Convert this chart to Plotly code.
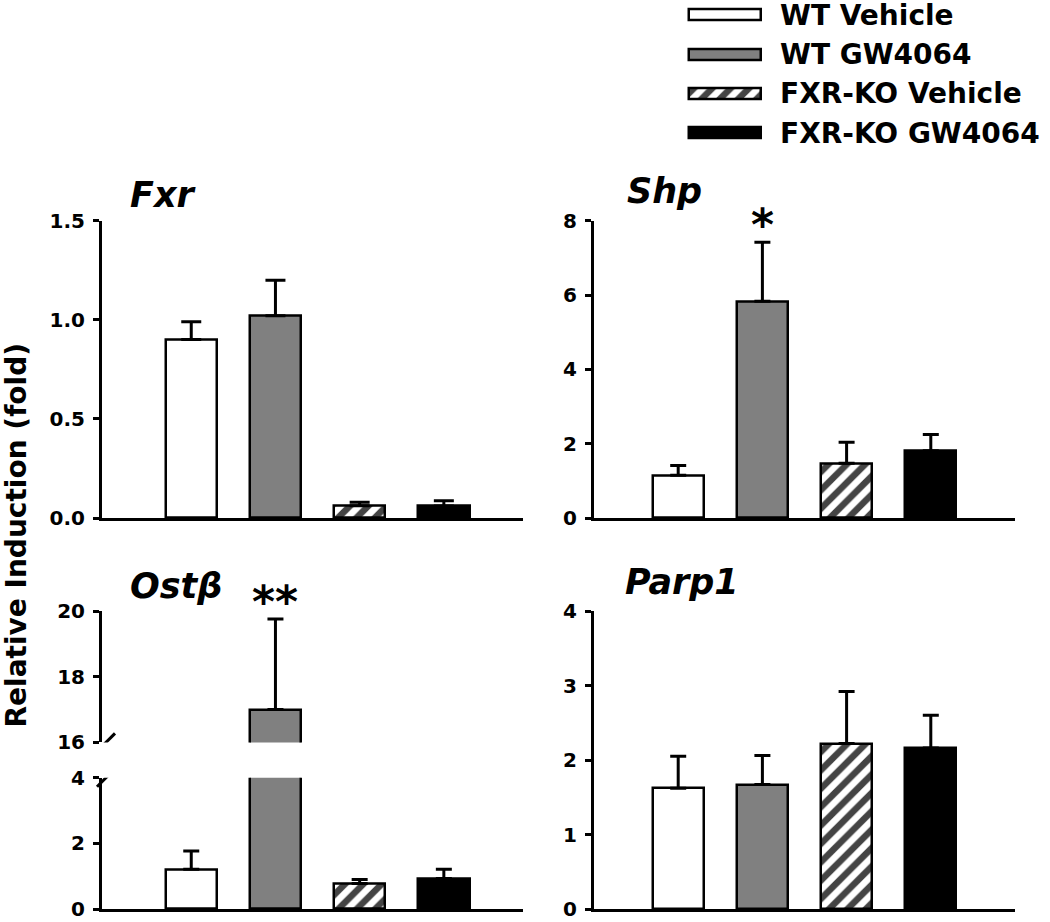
import plotly.graph_objects as go

# groups and bar positions
groups = ["WT Vehicle", "WT GW4064", "FXR-KO Vehicle", "FXR-KO GW4064"]
positions = [1, 2, 3, 4]

# mean and SEM
fxr_mean = [0.90, 1.02, 0.062, 0.06]
fxr_sem = [0.09, 0.18, 0.017, 0.027]
shp_mean = [1.15, 5.83, 1.47, 1.81]
shp_sem = [0.26, 1.59, 0.57, 0.44]
ostb_mean = [1.21, 17.0, 0.78, 0.93]
ostb_sem = [0.56, 2.76, 0.12, 0.28]
parp1_mean = [1.62, 1.67, 2.22, 2.16]
parp1_sem = [0.43, 0.39, 0.70, 0.44]

fills = ["white", "#808080", "white", "black"]
hatch = ["", "", "/", ""]

FONT = "DejaVu Sans"
W, H = 1050, 922


def bars(mean, sem, xa, ya, capw=8):
    return go.Bar(
        x=positions, y=mean, xaxis=xa, yaxis=ya, width=0.61,
        marker=dict(color=fills, line=dict(color="black", width=2.5),
                    pattern=dict(shape=hatch, fgcolor="black", bgcolor="white",
                                 fgopacity=1, size=13, solidity=0.5)),
        error_y=dict(type="data", array=sem, arrayminus=[0] * len(sem),
                     symmetric=False, color="black", thickness=3, width=capw),
        showlegend=False, hoverinfo="skip")


fig = go.Figure()
fig.add_trace(bars(fxr_mean, fxr_sem, "x", "y", capw=10))
fig.add_trace(bars(shp_mean, shp_sem, "x2", "y2"))
fig.add_trace(bars(ostb_mean, ostb_sem, "x3", "y3"))
fig.add_trace(bars(ostb_mean, ostb_sem, "x3", "y4"))
fig.add_trace(bars(parp1_mean, parp1_sem, "x4", "y5"))

# legend drawn as a tiny subplot of horizontal bars
fig.add_trace(go.Bar(
    x=[1] * len(groups), y=list(range(len(groups))), orientation="h",
    xaxis="x5", yaxis="y6", width=0.28,
    marker=dict(color=fills, line=dict(color="black", width=2.5),
                pattern=dict(shape=hatch, fgcolor="black", bgcolor="white",
                             fgopacity=1, size=13, solidity=0.5)),
    showlegend=False, hoverinfo="skip"))

left = [102 / W, 523 / W]
right = [594 / W, 1015 / W]
top_row = [1 - 518 / H, 1 - 220.7 / H]
ost_low = [1 - 909 / H, 1 - 777.7 / H]
ost_up = [1 - 742.4 / H, 1 - 611 / H]
parp_dom = [1 - 909 / H, 1 - 611 / H]

tickfont = dict(family=FONT, size=20, color="black", weight="bold")


def xax(dom, anchor, rng):
    return dict(domain=dom, anchor=anchor, range=rng, showline=True,
                linecolor="black", linewidth=3, ticks="", showticklabels=False,
                showgrid=False, zeroline=False, automargin=False, fixedrange=True)


def yax(dom, anchor, rng, dtick, fmt=None):
    d = dict(domain=dom, anchor=anchor, range=rng, dtick=dtick, tick0=0,
             showline=True, linecolor="black", linewidth=3, ticks="outside",
             ticklen=6, tickwidth=3, tickcolor="black", tickfont=tickfont,
             showgrid=False, zeroline=False, ticklabelstandoff=4,
             ticklabeloverflow="allow", automargin=False, fixedrange=True)
    if fmt:
        d["tickformat"] = fmt
    return d


fig.update_layout(
    width=W, height=H,
    margin=dict(l=0, r=0, t=0, b=0, pad=0, autoexpand=False),
    paper_bgcolor="white", plot_bgcolor="rgba(0,0,0,0)",
    bargap=0, showlegend=False,
    font=dict(family=FONT, color="black"),
    xaxis=xax(left, "y", [-0.06, 4.94]),
    yaxis=yax(top_row, "x", [0, 1.5], 0.5, ".1f"),
    xaxis2=xax(right, "y2", [0, 5]),
    yaxis2=yax(top_row, "x2", [0, 8], 2),
    xaxis3=xax(left, "y3", [-0.06, 4.94]),
    yaxis3=yax(ost_low, "x3", [0, 4], 2),
    yaxis4=yax(ost_up, "x3", [16, 20], 2),
    xaxis4=xax(right, "y5", [0, 5]),
    yaxis5=yax(parp_dom, "x4", [0, 4], 1),
    xaxis5=dict(domain=[687 / W, 763 / W], anchor="y6", range=[-0.03, 1.03],
                visible=False, automargin=False, fixedrange=True),
    yaxis6=dict(domain=[1 - 144.7 / H, 1 - 3.2 / H], anchor="x5",
                range=[3.3, -0.3], side="right", tickvals=list(range(len(groups))),
                ticktext=groups, ticks="", showline=False, showgrid=False,
                zeroline=False, ticklabelstandoff=16, ticklabeloverflow="allow",
                automargin=False, fixedrange=True,
                tickfont=dict(family=FONT, size=28, color="black", weight="bold")),
)

# axis break marks on the Ostβ panel
for yref, anchor in [("y4", 16), ("y3", 4)]:
    fig.add_shape(type="line", xref="paper", xsizemode="pixel", xanchor=103 / W,
                  x0=-6, x1=12, yref=yref, ysizemode="pixel", yanchor=anchor,
                  y0=-9, y1=9, line=dict(color="black", width=3))

titles = [("Fxr", 128, 195), ("Shp", 625, 191), ("Ostβ", 128, 586), ("Parp1", 623, 582)]
for txt, px, py in titles:
    fig.add_annotation(text="<b><i>%s</i></b>" % txt, xref="paper", yref="paper",
                       x=px / W, y=1 - py / H, xanchor="left", yanchor="middle",
                       showarrow=False, font=dict(family=FONT, size=35, color="black"))

# significance marks
fig.add_annotation(text="<b>*</b>", xref="x2", yref="y2", x=positions[1],
                   y=shp_mean[1] + shp_sem[1], yanchor="bottom", yshift=-10,
                   showarrow=False, font=dict(family=FONT, size=44, color="black"))
fig.add_annotation(text="<b>**</b>", xref="x3", yref="y4", x=positions[1],
                   y=ostb_mean[1] + ostb_sem[1], yanchor="bottom", yshift=-10,
                   showarrow=False, font=dict(family=FONT, size=44, color="black"))

fig.add_annotation(text="<b>Relative Induction (fold)</b>", textangle=-90,
                   xref="paper", yref="paper", x=0, y=1 - 535 / H, xshift=-2,
                   xanchor="left", yanchor="middle", showarrow=False, borderpad=0,
                   font=dict(family=FONT, size=28, color="black"))

# the browser's default 8px body margin would push the figure off the window
fig.write_html("out.html", config={"displayModeBar": False},
               post_script="document.body.style.margin = '0';")
